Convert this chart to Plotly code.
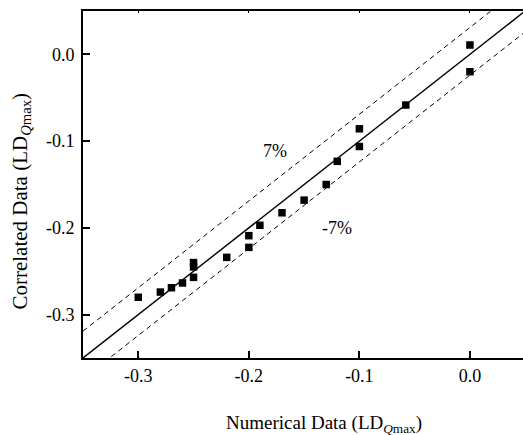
import plotly.graph_objects as go

# Scatter data (numerical vs correlated LD_Qmax)
numerical = [-0.30, -0.28, -0.27, -0.26, -0.25, -0.25, -0.25, -0.22, -0.20, -0.20,
             -0.19, -0.17, -0.15, -0.13, -0.12, -0.10, -0.10, -0.058, 0.0, 0.0]
correlated = [-0.280, -0.274, -0.269, -0.2635, -0.240, -0.245, -0.257, -0.234, -0.209, -0.2225,
              -0.197, -0.1826, -0.168, -0.150, -0.1233, -0.0858, -0.1062, -0.0584, 0.0108, -0.020]

# Reference lines
diag_x = [-0.35, 0.05]
diag_y = [-0.35, 0.05]
upper_y = [-0.319, 0.081]
lower_y = [-0.374, 0.026]

x_ticks = [-0.3, -0.2, -0.1, 0.0]
y_ticks = [-0.3, -0.2, -0.1, 0.0]
tick_text = ["-0.3", "-0.2", "-0.1", "0.0"]

FONT = "Liberation Serif, Times New Roman, DejaVu Serif, serif"

fig = go.Figure()
fig.add_trace(go.Scatter(x=diag_x, y=diag_y, mode="lines",
                         line=dict(color="black", width=1.4), showlegend=False))
fig.add_trace(go.Scatter(x=diag_x, y=upper_y, mode="lines",
                         line=dict(color="black", width=1, dash="5px,4px"), showlegend=False))
fig.add_trace(go.Scatter(x=diag_x, y=lower_y, mode="lines",
                         line=dict(color="black", width=1, dash="5px,4px"), showlegend=False))
fig.add_trace(go.Scatter(x=numerical, y=correlated, mode="markers",
                         marker=dict(symbol="square", size=7.5, color="black"),
                         showlegend=False, cliponaxis=False))

fig.add_annotation(x=-0.176, y=-0.111, text="7%", showarrow=False,
                   font=dict(family=FONT, size=18, color="black"))
fig.add_annotation(x=-0.12, y=-0.2, text="-7%", showarrow=False,
                   font=dict(family=FONT, size=18, color="black"))

# Axis titles
fig.add_annotation(xref="paper", yref="paper", x=0.5477, y=-0.19,
                   text="Numerical Data (LD<sub><i>Q</i>max</sub>)", showarrow=False,
                   xanchor="center", yanchor="middle",
                   font=dict(family=FONT, size=19, color="black"))
fig.add_annotation(xref="paper", yref="paper", x=-0.143, y=0.451,
                   text="Correlated Data (LD<sub><i>Q</i>max</sub>)", showarrow=False,
                   textangle=-90, xanchor="center", yanchor="middle",
                   font=dict(family=FONT, size=21, color="black"))

fig.update_layout(
    width=523, height=435,
    margin=dict(l=83, r=0, t=11, b=77),
    paper_bgcolor="white", plot_bgcolor="white",
    font=dict(family=FONT, size=18, color="black"),
    xaxis=dict(range=[-0.35, 0.048], tickvals=x_ticks, ticktext=tick_text,
               ticks="inside", ticklen=7, tickwidth=2, tickcolor="black",
               showline=True, linecolor="black", linewidth=2, mirror=True,
               showgrid=False, zeroline=False,
               tickfont=dict(family=FONT, size=18)),
    yaxis=dict(range=[-0.35, 0.05], tickvals=y_ticks, ticktext=tick_text,
               ticks="inside", ticklen=7, tickwidth=2, tickcolor="black",
               showline=True, linecolor="black", linewidth=2, mirror=False,
               showgrid=False, zeroline=False, ticklabelstandoff=3,
               tickfont=dict(family=FONT, size=18)),
    xaxis2=dict(range=[-0.35, 0.048], overlaying="x", side="top",
                tickvals=x_ticks, showticklabels=False,
                ticks="inside", ticklen=2, tickwidth=1, tickcolor="black",
                showline=False, showgrid=False, zeroline=False),
)
fig.add_trace(go.Scatter(x=[None], y=[None], xaxis="x2", showlegend=False))

fig.write_html("out.html")
